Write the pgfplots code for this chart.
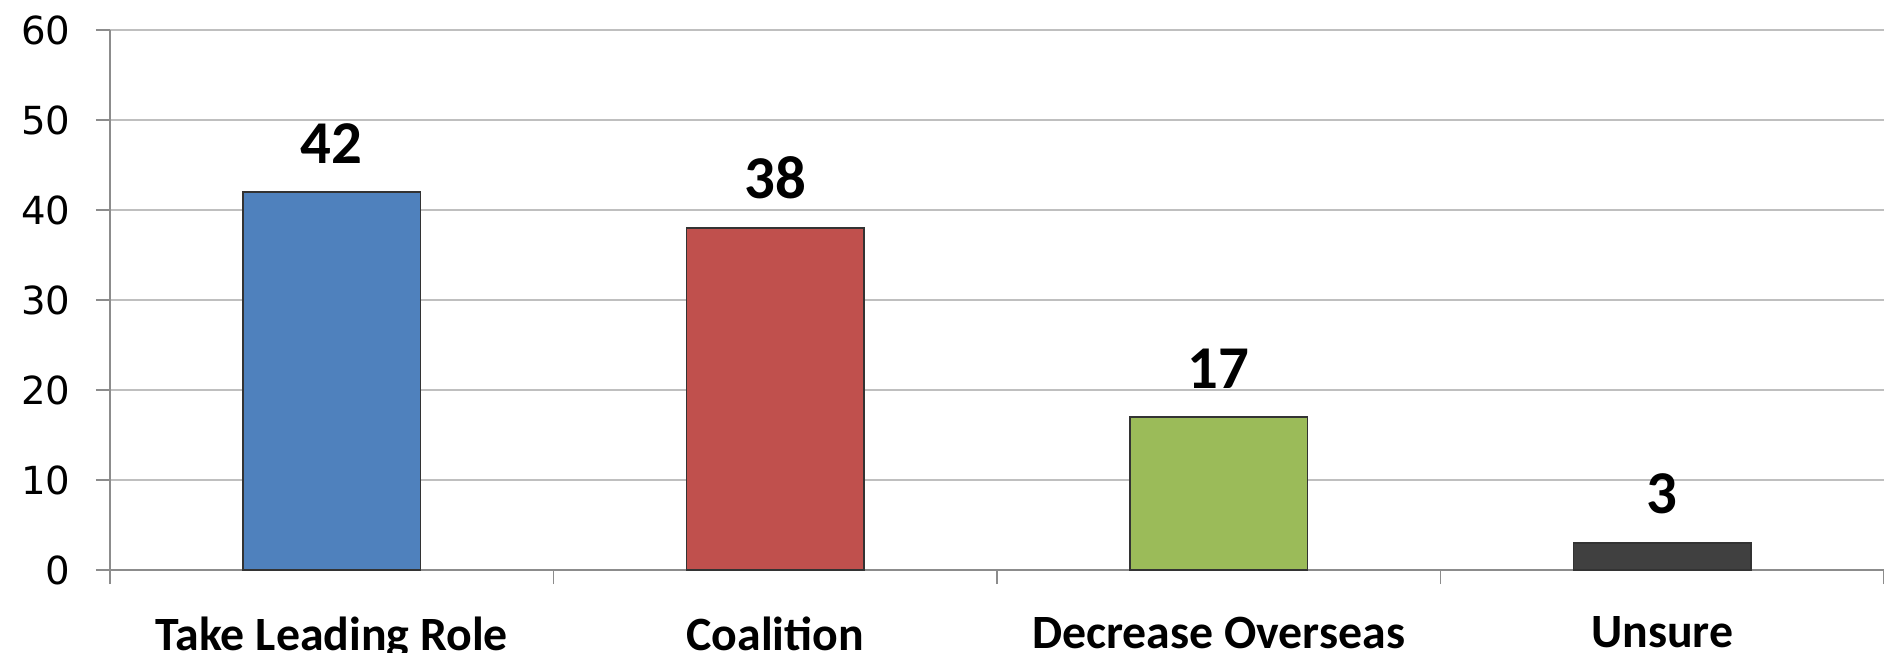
\documentclass[border=0pt]{standalone}
\usepackage{fontspec}
\setmainfont{Carlito}
\newfontfamily\dejavu{DejaVu Sans}
\usepackage{pgfplots}
\pgfplotsset{compat=1.18}
\definecolor{cblue}{HTML}{4F81BD}
\definecolor{cred}{HTML}{C0504D}
\definecolor{cgreen}{HTML}{9BBB59}
\definecolor{cdark}{HTML}{404040}
\definecolor{gridgray}{HTML}{BFBFBF}
\definecolor{axgray}{HTML}{8C8C8C}
\begin{document}
\begin{tikzpicture}
\begin{axis}[
    name=ax,
    scale only axis,
    width=177.4mm, height=54mm,
    ymin=0, ymax=60, ytick={0,10,...,60},
    xmin=-0.5, xmax=3.5,
    xtick={-0.5,0.5,1.5,2.5,3.5},
    x tick label as interval,
    xticklabels={Take Leading Role,Coalition,Decrease Overseas,Unsure},
    axis x line*=bottom, axis y line*=left,
    axis line style={draw=axgray, line width=0.5pt, -},
    tick style={draw=axgray, line width=0.5pt},
    tick align=outside,
    major tick length=1.4mm,
    ymajorgrids, grid style={draw=gridgray, line width=0.5pt},
    /pgf/number format/assume math mode=true,
    yticklabel style={font=\dejavu\fontsize{11}{12}\selectfont, text=black, xshift=-1.3mm},
    xticklabel style={font=\bfseries\fontsize{13.6}{15}\selectfont, text=black, anchor=north, yshift=-2.05mm},
    ybar, bar width=0.4, bar shift=0pt,
    nodes near coords,
    every node near coord/.append style={font=\bfseries\fontsize{17.3}{18}\selectfont, text=black, inner sep=0pt, yshift=2.8mm},
    clip=false,
]
\addplot[fill=cblue, draw=black!80, line width=0.5pt] coordinates {(0,42)};
\addplot[fill=cred, draw=black!80, line width=0.5pt] coordinates {(1,38)};
\addplot[fill=cgreen, draw=black!80, line width=0.5pt] coordinates {(2,17)};
\addplot[fill=cdark, draw=black!80, line width=0.5pt] coordinates {(3,3)};
\end{axis}
\pgfresetboundingbox
\path[use as bounding box] ([xshift=-11mm, yshift=-8.2mm]ax.south west) rectangle ([yshift=3mm]ax.north east);
\end{tikzpicture}
\end{document}
